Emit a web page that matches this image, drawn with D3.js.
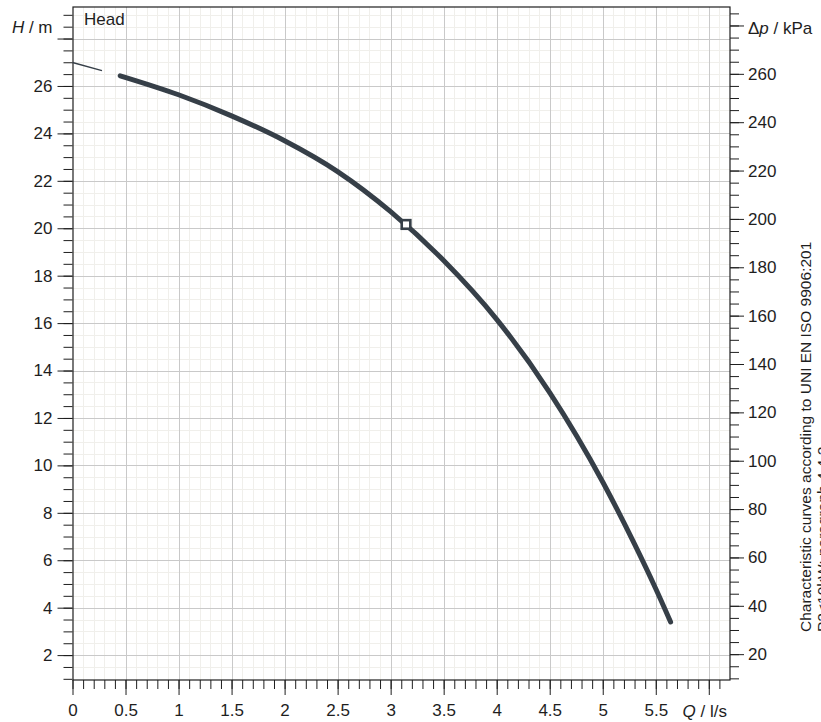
<!DOCTYPE html>
<html>
<head>
<meta charset="utf-8">
<script src="https://cdn.jsdelivr.net/npm/d3@7"></script>
<style>
  html, body { margin: 0; padding: 0; background: #fff; }
  svg { display: block; font-family: "Liberation Sans", Arial, sans-serif; }
</style>
</head>
<body>
<svg id="chart" width="821" height="722"></svg>
<script>
// ---- data ----
const flowQ = [0.45, 1.0, 1.5, 2.0, 2.5, 3.0, 3.5, 4.0, 4.5, 5.0, 5.3, 5.5, 5.64];   // l/s
const headH = [26.43, 25.63, 24.74, 23.69, 22.39, 20.70, 18.64, 16.16, 13.07, 9.3, 6.68, 4.8, 3.4]; // m
const extQ = [0, 0.278];          // thin extension at low flow
const extH = [26.99, 26.65];
const dutyQ = [3.145];            // operating point
const dutyH = [20.16];
const qTickLabels = ["0", "0.5", "1", "1.5", "2", "2.5", "3", "3.5", "4", "4.5", "5", "5.5"];
const hTickLabels = [2, 4, 6, 8, 10, 12, 14, 16, 18, 20, 22, 24, 26];
const pTickLabels = [20, 40, 60, 80, 100, 120, 140, 160, 180, 200, 220, 240, 260];
const noteLines = ["Characteristic curves according to UNI EN ISO 9906:201", "P2<10kW: paragraph 4.4.2"];
const rhoG = 9.807;  // kPa per m

// ---- layout ----
const L = 72.5, R = 730, T = 7, B = 680;
const qDomain = [0, 6.2], hDomain = [0.95, 29.33];
const x = d3.scaleLinear().domain(qDomain).range([L, R]);
const y = d3.scaleLinear().domain(hDomain).range([B, T]);
const yP = d3.scaleLinear().domain(hDomain.map(h => h * rhoG)).range([B, T]);

const svg = d3.select("#chart");
const ink = "#1e1e1e";
const curveCol = "#363f48";
const FS = "17px";
const px = v => Math.round(v) + 0.5;
const rng = (a, b, s) => d3.range(Math.round(a / s), Math.round(b / s) + 1).map(i => +(i * s).toFixed(4));

// grid
const g = svg.append("g");
const qMinor = rng(0.1, 6.1, 0.1).filter(v => Math.abs(v * 2 - Math.round(v * 2)) > 1e-6);
const qMajor = rng(0.5, 6.0, 0.5);
const hMinor = rng(1.5, 29, 0.5).filter(v => Math.abs(v / 2 - Math.round(v / 2)) > 1e-6);
const hMajor = rng(2, 28, 2);
g.selectAll(".vmin").data(qMinor).join("line")
  .attr("x1", d => px(x(d))).attr("x2", d => px(x(d))).attr("y1", T).attr("y2", B)
  .attr("stroke", "#f0efeb").attr("stroke-width", 1);
g.selectAll(".hmin").data(hMinor).join("line")
  .attr("y1", d => px(y(d))).attr("y2", d => px(y(d))).attr("x1", L).attr("x2", R)
  .attr("stroke", "#f0efeb").attr("stroke-width", 1);
g.selectAll(".vmaj").data(qMajor).join("line")
  .attr("x1", d => px(x(d))).attr("x2", d => px(x(d))).attr("y1", T).attr("y2", B)
  .attr("stroke", "#c9c9c9").attr("stroke-width", 1);
g.selectAll(".hmaj").data(hMajor).join("line")
  .attr("y1", d => px(y(d))).attr("y2", d => px(y(d))).attr("x1", L).attr("x2", R)
  .attr("stroke", "#c9c9c9").attr("stroke-width", 1);

// axes
function styleAxis(sel) {
  sel.select(".domain").remove();
  sel.selectAll("line").attr("stroke", ink);
  sel.selectAll("text").attr("fill", ink).style("font-size", FS);
}
// left (H)
svg.append("g").attr("transform", `translate(${L},0)`)
  .call(d3.axisLeft(y).tickValues(rng(1, 29, 0.5)).tickSize(9).tickFormat(""))
  .call(styleAxis);
svg.append("g").attr("transform", `translate(${L},0)`)
  .call(d3.axisLeft(y).tickValues(hMajor).tickSize(15).tickPadding(5)
    .tickFormat(d => hTickLabels.includes(d) ? String(d) : ""))
  .call(styleAxis);
// right (kPa)
svg.append("g").attr("transform", `translate(${R},0)`)
  .call(d3.axisRight(yP).tickValues(rng(10, 285, 5)).tickSize(9).tickFormat(""))
  .call(styleAxis);
svg.append("g").attr("transform", `translate(${R},0)`)
  .call(d3.axisRight(yP).tickValues(rng(20, 280, 20)).tickSize(14).tickPadding(4)
    .tickFormat(d => pTickLabels.includes(d) ? String(d) : ""))
  .call(styleAxis);
// bottom (Q)
svg.append("g").attr("transform", `translate(0,${B})`)
  .call(d3.axisBottom(x).tickValues(rng(0, 6.1, 0.1)).tickSize(9).tickFormat(""))
  .call(styleAxis);
svg.append("g").attr("transform", `translate(0,${B})`)
  .call(d3.axisBottom(x).tickValues(rng(0, 6.0, 0.5)).tickSize(15).tickPadding(9)
    .tickFormat((d, i) => qTickLabels[i] !== undefined ? qTickLabels[i] : ""))
  .call(styleAxis);

// frame
svg.append("rect").attr("x", px(L) - 0.5).attr("y", px(T) - 0.5)
  .attr("width", Math.round(R) - Math.round(L)).attr("height", Math.round(B) - Math.round(T))
  .attr("fill", "none").attr("stroke", ink).attr("stroke-width", 1.2);

// curves
const line = d3.line().x(d => x(d[0])).y(d => y(d[1])).curve(d3.curveMonotoneX);
svg.append("path").datum(d3.zip(extQ, extH)).attr("d", d3.line().x(d => x(d[0])).y(d => y(d[1])))
  .attr("fill", "none").attr("stroke", curveCol).attr("stroke-width", 1.4);
svg.append("path").datum(d3.zip(flowQ, headH)).attr("d", line)
  .attr("fill", "none").attr("stroke", curveCol).attr("stroke-width", 5)
  .attr("stroke-linecap", "round").attr("stroke-linejoin", "round");
svg.selectAll(".duty").data(d3.zip(dutyQ, dutyH)).join("rect")
  .attr("x", d => x(d[0]) - 4.3).attr("y", d => y(d[1]) - 4.3)
  .attr("width", 8.6).attr("height", 8.6)
  .attr("fill", "#fff").attr("stroke", curveCol).attr("stroke-width", 2.6);

// titles
const t1 = svg.append("text").attr("x", 52.5).attr("y", 33.3).attr("text-anchor", "end")
  .attr("fill", ink).style("font-size", FS);
t1.append("tspan").attr("font-style", "italic").text("H");
t1.append("tspan").text(" / m");
const t2 = svg.append("text").attr("x", 748).attr("y", 33.5).attr("fill", ink).style("font-size", FS);
t2.append("tspan").text("Δ");
t2.append("tspan").attr("font-style", "italic").text("p");
t2.append("tspan").text(" / kPa");
const t3 = svg.append("text").attr("x", 727).attr("y", 716.7).attr("text-anchor", "end")
  .attr("fill", ink).style("font-size", FS);
t3.append("tspan").attr("font-style", "italic").text("Q");
t3.append("tspan").text(" / l/s");
svg.append("text").attr("x", 84).attr("y", 25).attr("fill", ink).style("font-size", FS).text("Head");

// side note
const note = svg.append("text").attr("transform", "translate(810.5,632) rotate(-90)")
  .attr("fill", ink).style("font-size", "15.5px");
note.selectAll("tspan").data(noteLines).join("tspan")
  .attr("x", 0).attr("dy", (d, i) => i === 0 ? 0 : "1.13em").text(d => d);
</script>
</body>
</html>
